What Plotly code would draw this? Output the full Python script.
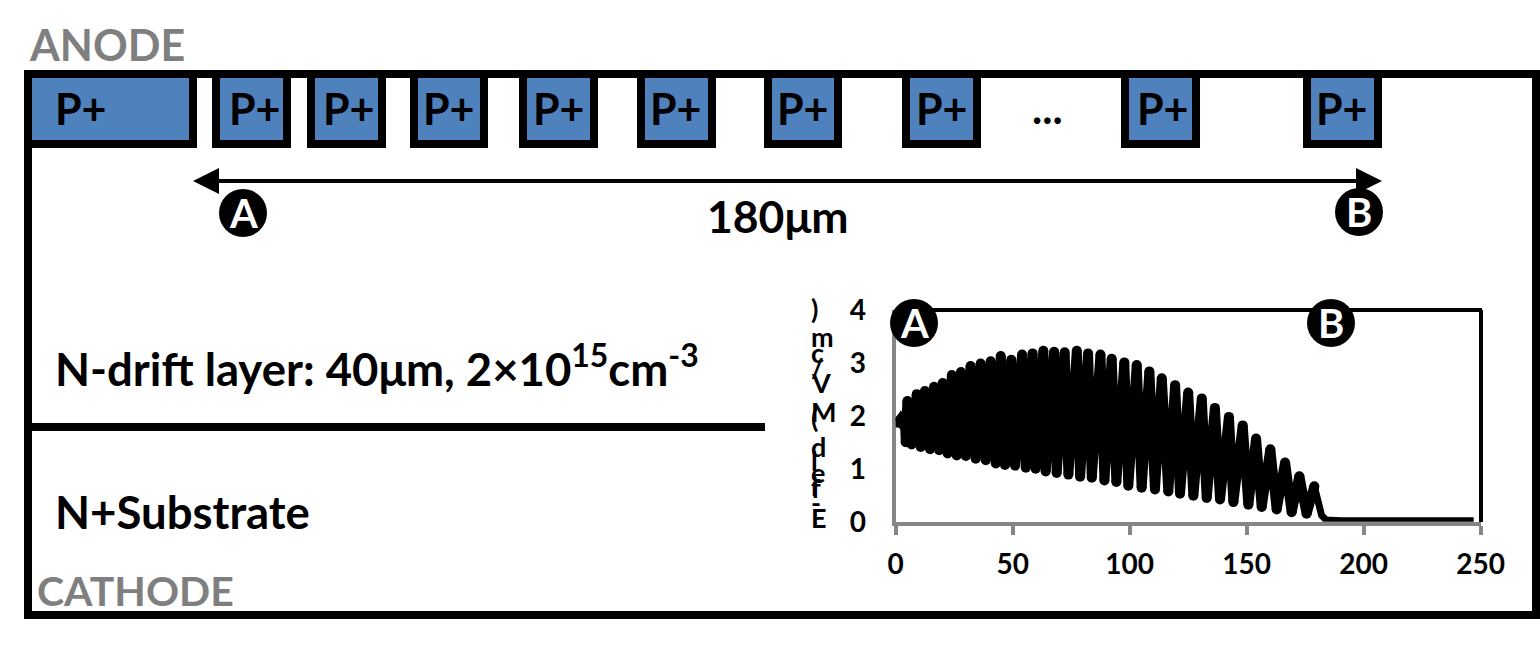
import plotly.graph_objects as go

# page size, the schematic is laid out in page pixels
W = 1540
H = 649

# electric field along the cut A-B
pos_um = [1, 2, 3, 4, 4.3, 5, 6.8, 9, 10.7, 12.5, 14.7, 16.4, 18.6, 20.1, 22.2, 24, 26.1, 27.9, 30, 32,
          34.2, 36.3, 38.5, 40.6, 42.8, 44.9, 46.7, 49.4, 51, 54, 55.6, 58.5, 59.8, 63.1, 64.1, 67.7,
          68.8, 72.2, 73.8, 77.4, 78.8, 82.2, 83.8, 87.5, 89.2, 92.3, 94.3, 97.7, 99.4, 103, 105.1,
          108.4, 110.8, 113.7, 116.5, 119.4, 121.5, 125, 127.2, 130.8, 132.9, 136.4, 138.6, 142.4,
          144.3, 148.3, 150.7, 154, 156.4, 160.1, 162.8, 166.4, 169.2, 172.5, 175.6, 178.9]
field_mv = [1.87, 1.93, 1.85, 1.9, 1.5, 2.28, 1.46, 2.41, 1.41, 2.47, 1.37, 2.55, 1.35, 2.62, 1.29, 2.77,
            1.25, 2.83, 1.24, 2.94, 1.19, 2.99, 1.16, 3.03, 1.1, 3.13, 1.07, 3.06, 1.06, 3.16, 1.02,
            3.18, 1.0, 3.23, 0.95, 3.21, 0.92, 3.2, 0.89, 3.23, 0.85, 3.18, 0.83, 3.16, 0.78, 3.08,
            0.75, 3.01, 0.68, 2.96, 0.64, 2.84, 0.61, 2.71, 0.57, 2.58, 0.53, 2.44, 0.49, 2.33, 0.45,
            2.15, 0.42, 1.98, 0.37, 1.82, 0.32, 1.57, 0.28, 1.37, 0.23, 1.12, 0.18, 0.86, 0.15, 0.67]

# past the last P+ the field just decays to zero
tail_um = [178.9, 180.5, 182, 184, 190, 220, 247]
tail_mv = [0.67, 0.32, 0.12, 0.03, 0.02, 0.02, 0.02]

x_ticks = [0, 50, 100, 150, 200, 250]
y_ticks = [0, 1, 2, 3, 4]

# P+ regions: outer left/right edges and where the label sits
box_left = [24, 212, 307, 410, 519, 637, 764, 902, 1121, 1303]
box_right = [197, 291, 386, 488, 598, 716, 842, 981, 1200, 1382]
box_label_x = [81, 255, 349, 449, 559, 676, 803, 942, 1163, 1342]

# the y title came out as a stack of upright letters, bottom to top
title_chars = ["E", "-", "f", "i", "e", "l", "d", "(", "M", "V", "/", "c", "m", ")"]
title_y = [517, 502, 487, 485, 473, 461, 446, 418, 412, 382, 367, 352, 336, 308]


def px(x):
    return x / W


def py(y):
    return 1 - y / H


def rect(x0, y0, x1, y1, fill=None, width=8, layer="above"):
    return dict(type="rect", xref="paper", yref="paper", x0=px(x0), x1=px(x1), y0=py(y0), y1=py(y1),
                fillcolor=fill, line=dict(color="black", width=width), layer=layer)


def hline(x0, x1, y, color="black", width=4):
    return dict(type="line", xref="paper", yref="paper", x0=px(x0), x1=px(x1), y0=py(y), y1=py(y),
                line=dict(color=color, width=width))


def vline(x, y0, y1, color="black", width=4):
    return dict(type="line", xref="paper", yref="paper", x0=px(x), x1=px(x), y0=py(y0), y1=py(y1),
                line=dict(color=color, width=width))


def disc(cx, cy, r=24):
    return dict(type="circle", xref="paper", yref="paper", x0=px(cx - r), x1=px(cx + r),
                y0=py(cy + r), y1=py(cy - r), fillcolor="black", line=dict(width=0))


def head(tip, base, top, bottom, y):
    p = "M %f %f L %f %f L %f %f Z" % (px(tip), py(y), px(base), py(top), px(base), py(bottom))
    return dict(type="path", xref="paper", yref="paper", path=p, fillcolor="black", line=dict(width=0))


def label(x, y, text, size, color="black", anchor="left", weight=700):
    return dict(xref="paper", yref="paper", x=px(x), y=py(y), text=text, showarrow=False, xanchor=anchor,
                yanchor="middle", align="left", borderpad=0,
                font=dict(family="Lato", size=size, color=color, weight=weight))


fig = go.Figure()
fig.add_trace(go.Scatter(x=pos_um, y=field_mv, mode="lines+markers", hoverinfo="skip",
                         line=dict(color="black", width=10),
                         marker=dict(color="black", size=10, line=dict(width=0))))
fig.add_trace(go.Scatter(x=tail_um, y=tail_mv, mode="lines", hoverinfo="skip",
                         line=dict(color="black", width=7)))

shapes = []
for left, right in zip(box_left, box_right):
    shapes.append(rect(left + 4, 74, right - 4, 144, fill="#4f81bd"))
shapes.append(rect(28, 74, 1536, 615))
shapes.append(hline(28, 765, 427, width=8))
shapes.append(hline(217, 1358, 181))
shapes.append(head(193, 219, 168, 194, 181))
shapes.append(head(1382, 1356, 168, 194, 181))
shapes.append(disc(243, 213))
shapes.append(disc(1359, 212))
# top and right edge of the inset
shapes.append(hline(896, 1482, 310))
shapes.append(vline(1481, 310, 522))
shapes.append(disc(914, 323))
shapes.append(disc(1331, 323))

notes = [
    label(28, 45, "ANODE", 43, color="#7f7f7f"),
    label(36, 590, "CATHODE", 41, color="#7f7f7f"),
    label(778, 215, "180μm", 44.5, anchor="center"),
    label(54, 366, "N-drift layer: 40μm, 2×10<sup>15</sup>cm<sup>-3</sup>", 45.5),
    label(54, 511, "N+Substrate", 45.5),
    label(1047, 107, "...", 43, anchor="center"),
    label(243, 213, "A", 40, color="white", anchor="center"),
    label(1359, 212, "B", 40, color="white", anchor="center"),
    label(914, 323, "A", 40, color="white", anchor="center"),
    label(1331, 323, "B", 40, color="white", anchor="center"),
]
for x in box_label_x:
    notes.append(label(x, 109, "P+", 43, anchor="center"))
for ch, y in zip(title_chars, title_y):
    notes.append(label(810, y, ch, 27))

fig.update_layout(
    width=W,
    height=H,
    margin=dict(l=0, r=0, t=0, b=0, pad=0),
    paper_bgcolor="white",
    plot_bgcolor="white",
    showlegend=False,
    shapes=shapes,
    annotations=notes,
    xaxis=dict(domain=[px(895.7), px(1480.7)], range=[0, 250], tickvals=x_ticks, showgrid=False,
               automargin=False, zeroline=False, showline=True, linecolor="#868686", linewidth=4,
               ticks="outside", ticklen=9, tickwidth=4, tickcolor="#868686", layer="below traces",
               tickfont=dict(family="Lato", size=28, color="black", weight=700), ticklabelstandoff=6),
    yaxis=dict(domain=[py(521.7), py(310)], range=[0, 4], tickvals=y_ticks, showgrid=False,
               automargin=False, zeroline=False, showline=True, linecolor="#868686", linewidth=4,
               ticks="", layer="below traces", ticklabelstandoff=20,
               tickfont=dict(family="Lato", size=28, color="black", weight=700)),
)

fig.write_html("out.html", config={"displayModeBar": False},
               post_script="document.body.style.margin='0';")
